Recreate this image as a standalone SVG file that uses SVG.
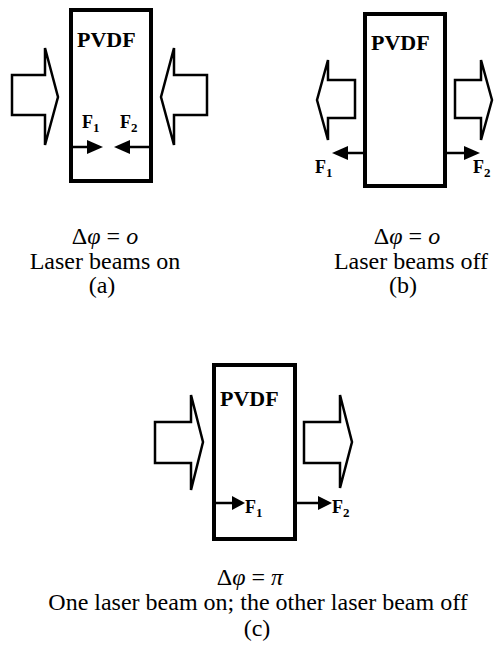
<svg xmlns="http://www.w3.org/2000/svg" width="498" height="650" viewBox="0 0 498 650">
<style>
.box{fill:#fff;stroke:#000;stroke-width:4}
.beam{fill:#fff;stroke:#000;stroke-width:2.5;stroke-linejoin:miter}
.fl{stroke:#000;stroke-width:2.5;fill:none}
.fh{fill:#000;stroke:none}
.lbl{font-family:"Liberation Serif","Times New Roman",serif;font-weight:bold;font-size:22px;fill:#000}
.f{font-family:"Liberation Serif","Times New Roman",serif;font-weight:bold;font-size:18px;fill:#000}
.sub{font-size:13px}
.cap{font-family:"Liberation Serif","Times New Roman",serif;font-size:24px;fill:#000;text-anchor:middle}
.it{font-style:italic}
</style>
<rect width="498" height="650" fill="#fff"/>
<g id="panel-a">
  <g id="a-box"><rect class="box" x="71" y="10" width="80" height="171"/><text class="lbl" x="77" y="47">PVDF</text></g>
  <g id="a-beam-left"><polygon class="beam" points="12,75 45,75 45,48 58,97 45,145 45,115 12,115"/></g>
  <g id="a-beam-right"><polygon class="beam" points="207,75 174,75 174,48 161,97 174,145 174,115 207,115"/></g>
  <g id="a-F1"><line class="fl" x1="71" y1="147" x2="89" y2="147"/><polygon class="fh" points="87,140 103,147 87,154"/><text class="f" x="82" y="128">F<tspan class="sub" dy="4">1</tspan></text></g>
  <g id="a-F2"><line class="fl" x1="151" y1="147" x2="129" y2="147"/><polygon class="fh" points="130,140 114,147 130,154"/><text class="f" x="120" y="128">F<tspan class="sub" dy="4">2</tspan></text></g>
  <g id="a-caption">
    <text class="cap" x="105" y="244">Δ<tspan class="it">φ</tspan> = <tspan class="it">o</tspan></text>
    <text class="cap" x="105" y="269">Laser beams on</text>
    <text class="cap" x="102" y="293">(a)</text>
  </g>
</g>
<g id="panel-b">
  <g id="b-box"><rect class="box" x="365" y="14" width="80" height="172"/><text class="lbl" x="371" y="50">PVDF</text></g>
  <g id="b-beam-left"><polygon class="beam" points="355,80 328,80 328,60 317,100 328,140 328,118 355,118"/></g>
  <g id="b-beam-right"><polygon class="beam" points="455,80 481,80 481,60 492,100 481,140 481,118 455,118"/></g>
  <g id="b-F1"><line class="fl" x1="365" y1="153" x2="346" y2="153"/><polygon class="fh" points="348,146 332,153 348,160"/><text class="f" x="315" y="173">F<tspan class="sub" dy="4">1</tspan></text></g>
  <g id="b-F2"><line class="fl" x1="445" y1="153" x2="466" y2="153"/><polygon class="fh" points="464,146 480,153 464,160"/><text class="f" x="473" y="173">F<tspan class="sub" dy="4">2</tspan></text></g>
  <g id="b-caption">
    <text class="cap" x="407" y="244">Δ<tspan class="it">φ</tspan> = <tspan class="it">o</tspan></text>
    <text class="cap" x="411" y="269">Laser beams off</text>
    <text class="cap" x="403" y="293">(b)</text>
  </g>
</g>
<g id="panel-c">
  <g id="c-box"><rect class="box" x="214" y="365" width="81" height="174"/><text class="lbl" x="220" y="406">PVDF</text></g>
  <g id="c-beam-left"><polygon class="beam" points="155,422 191,422 191,395 203,442 191,490 191,463 155,463"/></g>
  <g id="c-beam-right"><polygon class="beam" points="304,422 340,422 340,395 352,442 340,488 340,463 304,463"/></g>
  <g id="c-F1"><line class="fl" x1="214" y1="503" x2="234" y2="503"/><polygon class="fh" points="232,496 245,503 232,510"/><text class="f" x="245" y="513">F<tspan class="sub" dy="4">1</tspan></text></g>
  <g id="c-F2"><line class="fl" x1="295" y1="503" x2="320" y2="503"/><polygon class="fh" points="318,496 332,503 318,510"/><text class="f" x="332" y="513">F<tspan class="sub" dy="4">2</tspan></text></g>
  <g id="c-caption">
    <text class="cap" x="250" y="585">Δ<tspan class="it">φ</tspan> = <tspan class="it">π</tspan></text>
    <text class="cap" x="258" y="610">One laser beam on; the other laser beam off</text>
    <text class="cap" x="257" y="636">(c)</text>
  </g>
</g>
</svg>
